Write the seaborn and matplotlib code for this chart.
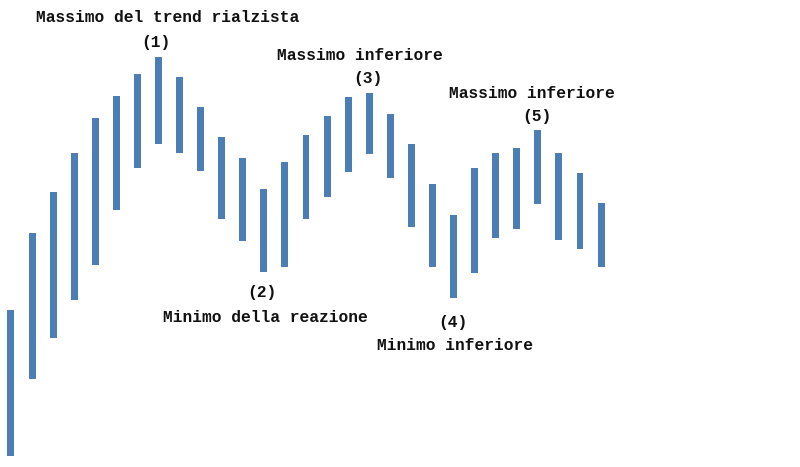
import numpy as np
import pandas as pd
import matplotlib
matplotlib.use("Agg")
import matplotlib.pyplot as plt
import seaborn as sns

# price bars (arbitrary price units)
highs = [17.0, 24.7, 28.8, 32.7, 36.2, 38.4, 40.6, 42.3, 40.3, 37.3,
         34.3, 32.2, 29.1, 31.8, 34.5, 36.4, 38.3, 38.7, 36.6, 33.6,
         29.6, 26.5, 31.2, 32.7, 33.2, 35.0, 32.7, 30.7, 27.7]
lows = [2.4, 10.1, 14.2, 18.0, 21.5, 27.0, 31.2, 33.6, 32.7, 30.9,
        26.1, 23.9, 20.8, 21.3, 26.1, 28.3, 30.8, 32.6, 30.2, 25.3,
        21.3, 18.2, 20.7, 24.2, 25.1, 27.6, 24.0, 23.1, 21.3]

# annotations: text, x (bar index), y (price)
labels = ["Massimo del trend rialzista", "(1)",
          "Massimo inferiore", "(3)",
          "Massimo inferiore", "(5)",
          "(2)", "Minimo della reazione",
          "(4)", "Minimo inferiore"]
label_x = [7.45, 6.88, 16.56, 16.94, 24.73, 24.96, 11.9, 12.06, 20.98, 21.07]
label_y = [46.2, 43.7, 42.5, 40.2, 38.6, 36.3, 18.8, 16.2, 15.8, 13.4]

df = pd.DataFrame({
    "bar": np.arange(len(highs)),
    "low": lows,
    "range": np.array(highs) - np.array(lows),
})

sns.set_style("white")
fig = plt.figure(figsize=(8, 4.67), dpi=100)
ax = fig.add_axes([0, 0, 1, 1])

sns.barplot(data=df, x="bar", y="range", bottom=df["low"].values,
            color="#4A7EB5", saturation=1, width=0.33, errorbar=None,
            edgecolor="none", ax=ax)

for txt, x, y in zip(labels, label_x, label_y):
    ax.text(x, y, txt, ha="center", va="center", fontsize=11.7,
            fontweight="bold", family=["Liberation Mono", "DejaVu Sans Mono"],
            color="#111111")

ax.set_xlim(-0.52, 37.44)
ax.set_ylim(1.3, 48)
ax.axis("off")

fig.savefig("out.png", dpi=100, facecolor="white")
